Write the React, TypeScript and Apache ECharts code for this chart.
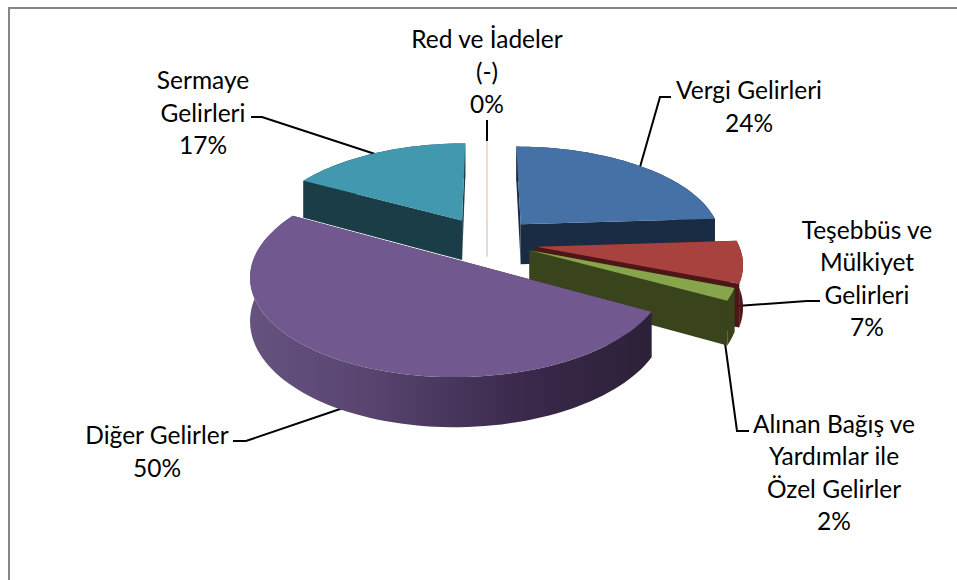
import React, { useEffect, useRef } from "react";
import * as echarts from "echarts";

const CATEGORIES = [
  "Vergi Gelirleri",
  "Teşebbüs ve\nMülkiyet\nGelirleri",
  "Alınan Bağış ve\nYardımlar ile\nÖzel Gelirler",
  "Diğer Gelirler",
  "Sermaye\nGelirleri",
  "Red ve İadeler\n(-)",
];
const VALUES = [24, 7, 2, 50, 17, 0];
const TOP_COLORS = ["#4571A7", "#A8423F", "#87A54B", "#71588F", "#4198AF", "#F6DCC6"];
const WALL_COLORS = ["#1A2C44", "#4C1716", "#3A441C", "#33263F", "#1A3D47", "#DDDDDD"];
const DRAW_ORDER = [4, 5, 0, 1, 2, 3];
const LABEL_POS = [
  [749, 106],
  [867, 278],
  [834, 472],
  [157, 451],
  [203, 112],
  [487, 71],
];
const LEADERS = [
  [[640, 167], [660, 97], [671, 97]],
  [[737, 306], [807, 301], [820, 301]],
  [[725, 343], [737, 431], [749, 431]],
  [[343, 408], [246, 441], [233, 441]],
  [[375, 154], [262, 117], [251, 117]],
  [[487, 143], [487, 120]],
];
const NUDGE = [
  [0, 1],
  [-1, 3],
  [-4, 0],
  [-3, -1],
  [0, 0],
  [0, 0],
];
const RADIUS_SCALE = [1, 1, 1, 0.985, 1, 1];

const CX = 487, CY = 240, R = 202, RT = 94, K = 0.15, T = 41, EXPLODE = 0.25;
const total = VALUES.reduce((a, b) => a + b, 0);

function project(wx: number, wv: number, z: number) {
  const s = 1 / (1 - K * wv);
  return [CX + R * wx * s, CY + RT * wv * s + T * z * s];
}

function renderSlice(_: any, api: any) {
  const idx = api.value(0) as number;
  const v = VALUES[idx];
  const before = VALUES.slice(0, idx).reduce((a, b) => a + b, 0);
  const a0 = (before / total) * Math.PI * 2;
  const a1 = ((before + v) / total) * Math.PI * 2;
  const am = (a0 + a1) / 2;
  const ex = EXPLODE * Math.sin(am), ev = -EXPLODE * Math.cos(am);
  const rs = RADIUS_SCALE[idx];
  const P = (a: number, r: number, z: number) => {
    const p = project(ex + rs * r * Math.sin(a), ev - rs * r * Math.cos(a), z);
    return [p[0] + NUDGE[idx][0], p[1] + NUDGE[idx][1]];
  };
  if (v === 0) {
    return {
      type: "group",
      children: [
        { type: "polyline", shape: { points: [P(a0, 0, 0), P(a0, 0, 1)] }, style: { stroke: WALL_COLORS[idx], lineWidth: 2, fill: "none" } },
        { type: "polyline", shape: { points: [P(a0, 1, 0), P(a0, 0, 0)] }, style: { stroke: TOP_COLORS[idx], lineWidth: 2, fill: "none" } },
      ],
    };
  }
  const N = Math.max(4, Math.ceil(((a1 - a0) / Math.PI) * 90));
  const arcTop: number[][] = [];
  const arcBot: number[][] = [];
  for (let i = 0; i <= N; i++) {
    const a = a0 + ((a1 - a0) * i) / N;
    arcTop.push(P(a, 1, 0));
    arcBot.push(P(a, 1, 1));
  }
  const apex = P(a0, 0, 0), apexB = P(a0, 0, 1);
  const rimFill = idx === 3
    ? new echarts.graphic.LinearGradient(0, 0, 1, 0, [
        { offset: 0, color: "#66527F" },
        { offset: 0.3, color: "#58446F" },
        { offset: 0.7, color: "#39284A" },
        { offset: 1, color: "#2C2138" },
      ])
    : WALL_COLORS[idx];
  return {
    type: "group",
    children: [
      { type: "polygon", shape: { points: [apex, arcTop[0], arcBot[0], apexB] }, style: { fill: WALL_COLORS[idx] } },
      { type: "polygon", shape: { points: [apex, arcTop[N], arcBot[N], apexB] }, style: { fill: WALL_COLORS[idx] } },
      { type: "polygon", shape: { points: [...arcTop, ...arcBot.slice().reverse()] }, style: { fill: rimFill } },
      { type: "polygon", shape: { points: [apex, ...arcTop] }, style: { fill: TOP_COLORS[idx] } },
    ],
  };
}

export default function App() {
  const ref = useRef<HTMLDivElement>(null);
  useEffect(() => {
    const chart = echarts.init(ref.current!, null, { renderer: "svg" });
    chart.setOption({
      animation: false,
      backgroundColor: "#fff",
      graphic: [
        { type: "polyline", shape: { points: [[9, 580], [9, 8], [957, 8]] }, style: { fill: "none", stroke: "#868686", lineWidth: 2 } },
        ...LEADERS.map((pts) => ({ type: "polyline", shape: { points: pts }, style: { stroke: "#000", lineWidth: 2, fill: "none" } })),
        ...CATEGORIES.map((c, i) => ({
          type: "text",
          x: LABEL_POS[i][0],
          y: LABEL_POS[i][1],
          style: {
            text: `${c}\n${VALUES[i]}%`,
            fontFamily: "Lato",
            fontSize: 24.5,
            lineHeight: 32.6,
            fill: "#000",
            textAlign: "center",
            textVerticalAlign: "middle",
          },
        })),
      ],
      series: [
        {
          type: "custom",
          coordinateSystem: "none",
          silent: true,
          clip: false,
          renderItem: renderSlice,
          data: DRAW_ORDER.map((i) => [i]),
        },
      ],
    });
    return () => chart.dispose();
  }, []);
  return <div ref={ref} style={{ position: "fixed", left: 0, top: 0, width: 957, height: 580 }} />;
}
